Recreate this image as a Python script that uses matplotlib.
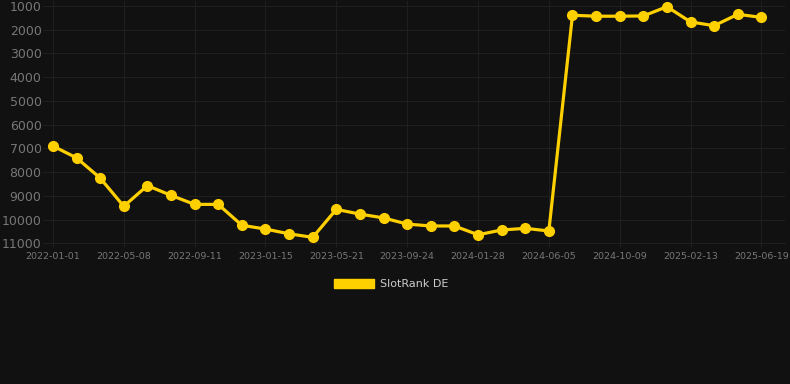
import matplotlib.pyplot as plt
from matplotlib.patches import Patch

# rank per period (lower number = better, axis is inverted)
ranks = [6900, 7400, 8250, 9440, 8570, 8980, 9360, 9360, 10240, 10400,
         10600, 10750, 9570, 9770, 9930, 10190, 10270, 10270, 10640, 10440,
         10370, 10480, 1390, 1430, 1430, 1420, 1030, 1670, 1830, 1350, 1480]

# only every third period carries a label on the x axis
date_labels = ["2022-01-01", "2022-05-08", "2022-09-11", "2023-01-15",
               "2023-05-21", "2023-09-24", "2024-01-28", "2024-06-05",
               "2024-10-09", "2025-02-13", "2025-06-19"]
y_ticks = [1000, 2000, 3000, 4000, 5000, 6000, 7000, 8000, 9000, 10000, 11000]

BG = "#111111"
GRID = "#1f1f1f"
TXT = "#777777"
GOLD = "#ffd000"

W, H = 790, 384
fig = plt.figure(figsize=(W / 100, H / 100), dpi=100, facecolor=BG)
ax = fig.add_axes([43 / W, (H - 243.3) / H, 742 / W, 242.3 / H], facecolor=BG)

x = list(range(len(ranks)))
ax.plot(x, ranks, color=GOLD, lw=2.3, marker="o", ms=7,
        markerfacecolor=GOLD, markeredgecolor=GOLD, clip_on=False, zorder=3)

ax.set_xlim(-0.42, 31.0)
ax.set_ylim(11000, 1000 - 5 / 23.73 * 1000)
ax.set_yticks(y_ticks)
ax.set_yticklabels([str(v) for v in y_ticks], fontsize=9, color=TXT)
ax.set_xticks(x[::3])
ax.set_xticklabels(date_labels, fontsize=6.8, color=TXT)

ax.grid(True, color=GRID, lw=0.8)
ax.set_axisbelow(True)
for side in ["top", "right", "left"]:
    ax.spines[side].set_visible(False)
ax.spines["bottom"].set_color(GRID)
ax.tick_params(axis="y", length=0, pad=1)
ax.tick_params(axis="x", length=3, color=GRID, pad=3)

handle = Patch(facecolor=GOLD, edgecolor=GOLD)
fig.legend([handle], ["SlotRank DE"], loc="center", bbox_to_anchor=(0.495, 0.26),
           frameon=False, fontsize=8, labelcolor="#cccccc",
           handlelength=3.6, handleheight=0.9, handletextpad=0.6)

fig.savefig("out.png", dpi=100, facecolor=BG)
